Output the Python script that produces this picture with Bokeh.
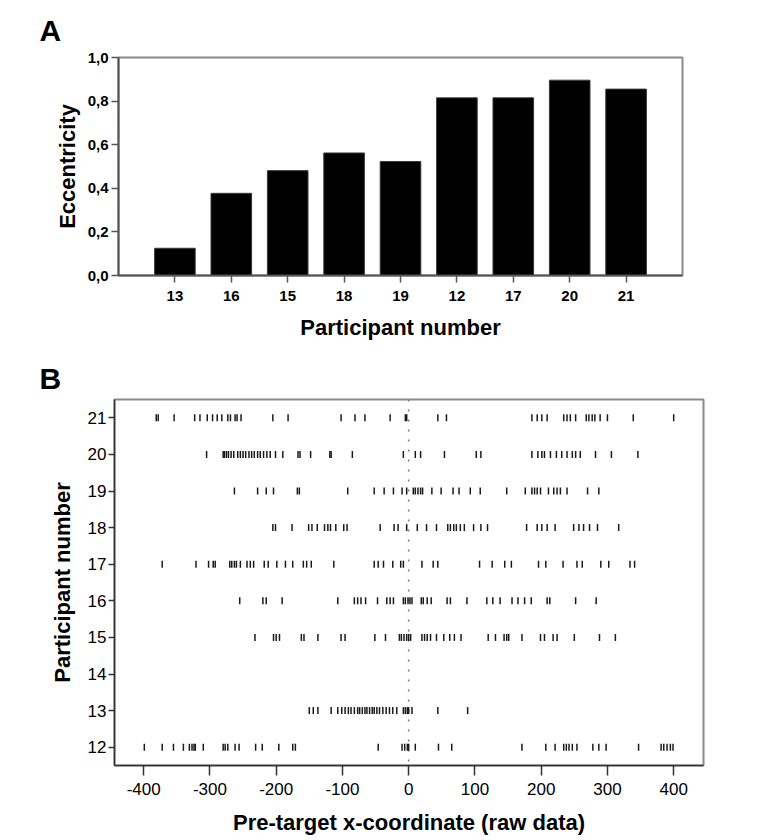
import math
from bokeh.plotting import figure
from bokeh.models import (FactorRange, Range1d, FixedTicker, CustomJSTickFormatter,
                          Span, Title)
from bokeh.embed import file_html
from bokeh.resources import INLINE

# ---------------- data: panel A ----------------
participants_a = ["13", "16", "15", "18", "19", "12", "17", "20", "21"]
eccentricity = [0.125, 0.377, 0.481, 0.562, 0.523, 0.815, 0.815, 0.896, 0.855]
y_ticks_a = [0.0, 0.2, 0.4, 0.6, 0.8, 1.0]

# ---------------- data: panel B ----------------
rows_b = [12, 13, 14, 15, 16, 17, 18, 19, 20, 21]
x_ticks_b = [-400, -300, -200, -100, 0, 100, 200, 300, 400]

p12 = [-399, -372, -355, -340, -331, -327, -324, -322, -310, -280, -277, -273, -262, -256,
       -231, -221, -196, -175, -171, -46, -10, -6, -2, 0, 10, 45, 65, 171, 207, 221, 234,
       238, 242, 247, 254, 278, 287, 298, 347, 381, 385, 390, 395, 399]
p13 = [-150, -144, -137, -117, -107, -101, -96, -91, -87, -82, -77, -74, -70, -66, -63, -59,
       -55, -52, -48, -44, -39, -34, -29, -24, -18, -8, -5, -2, 0, 5, 44, 89]
p14 = []
p15 = [-232, -204, -200, -195, -162, -158, -137, -102, -96, -51, -35, -14, -11, -7, -3, 0, 3,
       20, 24, 28, 33, 42, 53, 62, 69, 79, 120, 131, 144, 148, 151, 171, 199, 205, 218, 224,
       250, 288, 312]
p16 = [-255, -220, -215, -191, -107, -82, -77, -72, -65, -47, -33, -28, -23, -8, -5, -1, 2, 5,
       19, 22, 28, 34, 58, 63, 88, 118, 127, 138, 156, 165, 175, 185, 209, 213, 252, 283]
p17 = [-372, -321, -302, -295, -292, -270, -267, -263, -260, -254, -244, -239, -234, -218,
       -212, -199, -186, -175, -159, -154, -147, -113, -52, -46, -38, -24, -12, -8, 20, 37, 44,
       107, 126, 145, 155, 196, 207, 233, 254, 262, 290, 302, 334, 341]
p18 = [-205, -201, -176, -151, -146, -138, -127, -122, -118, -110, -98, -93, -43, -22, -16, -3,
       13, 27, 42, 59, 63, 68, 72, 78, 84, 98, 109, 119, 178, 194, 201, 209, 221, 249, 257,
       264, 273, 285, 317]
p19 = [-263, -228, -215, -204, -168, -165, -92, -52, -37, -23, -10, -3, 7, 10, 14, 18, 21, 35,
       49, 67, 76, 93, 108, 148, 176, 186, 190, 194, 199, 211, 219, 224, 229, 239, 270, 287]
p20 = [-305, -280, -278, -275, -272, -268, -264, -258, -254, -250, -246, -241, -237, -233,
       -228, -224, -219, -214, -209, -201, -190, -167, -164, -148, -119, -117, -85, -8, 10, 18,
       54, 102, 109, 186, 195, 201, 205, 214, 223, 231, 239, 247, 252, 259, 282, 306, 346]
p21 = [-381, -378, -354, -323, -315, -304, -296, -289, -282, -273, -269, -262, -259, -253,
       -205, -182, -102, -81, -66, -28, -5, -3, 44, 57, 186, 194, 201, 209, 234, 239, 244, 252,
       268, 272, 277, 281, 289, 300, 339, 400]

series_b = {12: p12, 13: p13, 14: p14, 15: p15, 16: p16, 17: p17, 18: p18, 19: p19,
            20: p20, 21: p21}

FONT = "Liberation Sans"

# ---------------- panel A ----------------
pa = figure(width=762, height=353,
            x_range=FactorRange(*participants_a, range_padding=0.5,
                                range_padding_units="absolute"),
            y_range=Range1d(0, 1),
            output_backend="svg", toolbar_location=None,
            min_border_left=118, min_border_top=57, min_border_right=80,
            min_border_bottom=78)
pa.vbar(x=participants_a, top=eccentricity, width=0.72, bottom=0,
        fill_color="black", line_color="#3a3a3a", line_width=1)
pa.grid.grid_line_color = None
pa.outline_line_color = "#8a8a8a"
pa.outline_line_width = 2

pa.yaxis.ticker = FixedTicker(ticks=y_ticks_a)
pa.yaxis.formatter = CustomJSTickFormatter(code="return tick.toFixed(1).replace('.', ',');")
pa.yaxis.axis_label = "Eccentricity"
pa.xaxis.axis_label = "Participant number"
for ax in (pa.xaxis, pa.yaxis):
    ax.axis_line_color = "#555555"
    ax.axis_line_width = 2
    ax.major_tick_line_color = "#555555"
    ax.major_tick_line_width = 1.5
    ax.major_tick_in = 0
    ax.major_tick_out = 7
    ax.minor_tick_line_color = None
    ax.major_label_text_font = FONT
    ax.major_label_text_font_style = "bold"
    ax.major_label_text_font_size = "15px"
    ax.major_label_text_color = "black"
    ax.axis_label_text_font = FONT
    ax.axis_label_text_font_style = "bold"
    ax.axis_label_text_font_size = "22px"
    ax.axis_label_text_color = "black"
pa.xaxis.major_label_standoff = 8
pa.xaxis.axis_label_standoff = 11
pa.yaxis.major_label_standoff = 3
pa.yaxis.axis_label_standoff = 5

pa.add_layout(Title(text="A", align="left", offset=-79, standoff=21,
                    text_font=FONT, text_font_style="bold", text_font_size="30px",
                    text_color="black"), "above")

# ---------------- panel B ----------------
xs, ys = [], []
for r in rows_b:
    for v in series_b[r]:
        xs.append(v)
        ys.append(r)

pb = figure(width=762, height=486,
            x_range=Range1d(-444, 445), y_range=Range1d(11.5, 21.5),
            output_backend="svg", toolbar_location=None,
            min_border_left=114, min_border_top=46, min_border_right=59,
            min_border_bottom=74)
pb.grid.grid_line_color = None
pb.outline_line_color = "#8a8a8a"
pb.outline_line_width = 2

pb.add_layout(Span(location=0, dimension="height", line_color="#7a7a7a",
                   line_width=1.5, line_dash="2 8", level="underlay"))
pb.scatter(x=xs, y=ys, marker="dash", angle=math.pi / 2, size=7,
           line_color="#1a1a1a", line_width=1.5)

pb.xaxis.ticker = FixedTicker(ticks=x_ticks_b)
pb.xaxis.formatter = CustomJSTickFormatter(code="return tick.toFixed(0);")
pb.yaxis.ticker = FixedTicker(ticks=rows_b)
pb.xaxis.axis_label = "Pre-target x-coordinate (raw data)"
pb.yaxis.axis_label = "Participant number"
for ax in (pb.xaxis, pb.yaxis):
    ax.axis_line_color = "#333333"
    ax.axis_line_width = 1.5
    ax.major_tick_line_color = "#333333"
    ax.major_tick_line_width = 1.5
    ax.major_tick_in = 0
    ax.minor_tick_line_color = None
    ax.major_label_text_font = FONT
    ax.major_label_text_font_size = "17px"
    ax.major_label_text_color = "black"
    ax.axis_label_text_font = FONT
    ax.axis_label_text_font_style = "bold"
    ax.axis_label_text_font_size = "22px"
    ax.axis_label_text_color = "black"
pb.xaxis.major_tick_out = 10
pb.yaxis.major_tick_out = 6
pb.xaxis.major_label_standoff = 7
pb.xaxis.axis_label_standoff = 12
pb.yaxis.major_label_standoff = 2
pb.yaxis.axis_label_standoff = 10

pb.add_layout(Title(text="B", align="left", offset=-75, standoff=10,
                    text_font=FONT, text_font_style="bold", text_font_size="30px",
                    text_color="black"), "above")

open("out.html", "w").write(file_html([pa, pb], INLINE))
